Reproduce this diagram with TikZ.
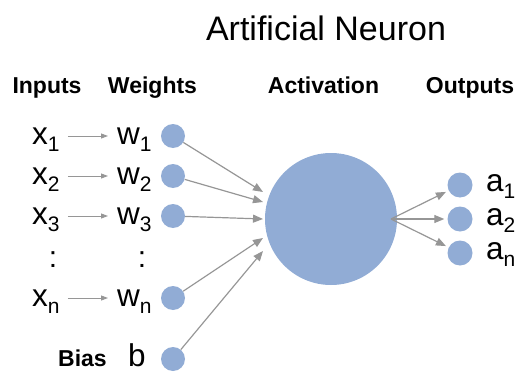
\documentclass[tikz,border=0pt]{standalone}
\usepackage{fontspec}
\setmainfont{Liberation Sans}
\usetikzlibrary{arrows.meta}
\definecolor{nblue}{RGB}{145,172,213}
\definecolor{agray}{RGB}{150,150,150}
\newcommand\sbx[1]{\raisebox{-7.5pt}{\fontsize{21}{21}\selectfont #1}}
\begin{document}
\begin{tikzpicture}[x=1pt,y=-1pt,
  neuron/.style={circle,fill=nblue,inner sep=0,minimum size=24pt},
  outn/.style={circle,fill=nblue,inner sep=0,minimum size=25pt},
  lbl/.style={font=\fontsize{31.5}{31.5}\selectfont,inner sep=0,anchor=base west},
  hdr/.style={font=\bfseries\fontsize{23}{23}\selectfont,inner sep=0,anchor=base},
  dots/.style={font=\fontsize{30}{30}\selectfont,inner sep=0},
  bigarr/.style={-{Triangle[length=10pt,width=8pt]},color=agray,line width=1.2pt},
  smallarr/.style={-{Triangle[length=7pt,width=5pt]},color=agray,line width=0.9pt,shorten <=8pt,shorten >=9pt}]
\useasboundingbox (0,0) rectangle (520,372);
% title and headers
\node[font=\fontsize{34}{34}\selectfont,inner sep=0,anchor=base] (title) at (326,40) {Artificial Neuron};
\node[hdr] (hin) at (47,93) {Inputs};
\node[hdr] (hw) at (152.5,93) {Weights};
\node[hdr] (hact) at (323.5,93) {Activation};
\node[hdr] (hout) at (470,93) {Outputs};
% input circles
\node[neuron] (n1) at (173,136) {};
\node[neuron] (n2) at (173,176) {};
\node[neuron] (n3) at (173,216) {};
\node[neuron] (nn) at (173,298) {};
\node[neuron] (nb) at (173,359) {};
% labels
\node[lbl] (x1) at (32,144) {x\sbx{1}};
\node[lbl] (x2) at (32,184) {x\sbx{2}};
\node[lbl] (x3) at (32,224) {x\sbx{3}};
\node[lbl] (xn) at (32,306) {x\sbx{n}};
\node[lbl] (w1) at (117,144) {w\sbx{1}};
\node[lbl] (w2) at (117,184) {w\sbx{2}};
\node[lbl] (w3) at (117,224) {w\sbx{3}};
\node[lbl] (wn) at (117,306) {w\sbx{n}};
\node[dots] (dx) at (53,259.5) {:};
\node[dots] (dw) at (142,259.5) {:};
\node[font=\bfseries\fontsize{23}{23}\selectfont,inner sep=0,anchor=base west] (bias) at (58,366) {Bias};
\node[lbl] (b) at (128,366) {b};
% small arrows
\draw[smallarr] (x1.east |- n1) -- (w1.west |- n1);
\draw[smallarr] (x2.east |- n2) -- (w2.west |- n2);
\draw[smallarr] (x3.east |- n3) -- (w3.west |- n3);
\draw[smallarr] (xn.east |- nn) -- (wn.west |- nn);
% activation
\node[circle,fill=nblue,inner sep=0,minimum size=132pt] (act) at (331,219) {};
\coordinate (t1) at (263,192);
\coordinate (t2) at (263,202);
\coordinate (t3) at (263,219);
\coordinate (t4) at (263,238);
\coordinate (t5) at (263,251);
\draw[bigarr] (n1) -- (t1);
\draw[bigarr] (n2) -- (t2);
\draw[bigarr] (n3) -- (t3);
\draw[bigarr] (nn) -- (t4);
\draw[bigarr] (nb) -- (t5);
% outputs
\node[outn] (o1) at (460,185) {};
\node[outn] (o2) at (460,219) {};
\node[outn] (o3) at (460,253) {};
\coordinate (s) at (391,219);
\draw[bigarr,shorten >=3pt] (s) -- (o1);
\draw[bigarr,shorten >=3pt] (s) -- (o2);
\draw[bigarr,shorten >=3pt] (s) -- (o3);
\node[lbl] (a1) at (486,191) {a\sbx{1}};
\node[lbl] (a2) at (486,225) {a\sbx{2}};
\node[lbl] (an) at (486,259) {a\sbx{n}};
\end{tikzpicture}
\end{document}
